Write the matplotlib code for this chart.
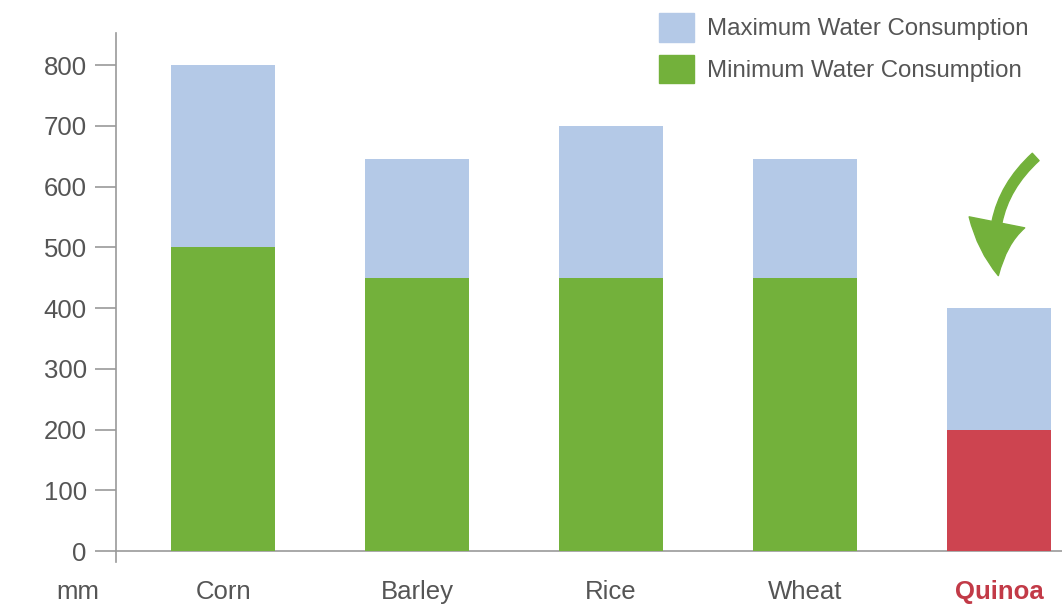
import matplotlib.pyplot as plt
from matplotlib.patches import Patch

plt.rcParams['font.family'] = ['Liberation Sans', 'DejaVu Sans']

crops = ['Corn', 'Barley', 'Rice', 'Wheat', 'Quinoa']
max_water = [800, 645, 700, 645, 400]
min_water = [500, 450, 450, 450, 200]
y_ticks = [0, 100, 200, 300, 400, 500, 600, 700, 800]

blue = '#b4c9e7'
green = '#73b13b'
red = '#cd4450'
grey_text = '#555555'
axis_grey = '#9a9a9a'

fig = plt.figure(figsize=(10.62, 6.07), dpi=100)
ax = fig.add_axes([116 / 1062, (607 - 562) / 607, 1 - 116 / 1062, (562 - 33) / 607])

x_pos = list(range(len(crops)))
min_colors = [green] * (len(crops) - 1) + [red]
ax.bar(x_pos, max_water, width=0.54, color=blue, zorder=2)
ax.bar(x_pos, min_water, width=0.54, color=min_colors, zorder=3)

for s in ['top', 'right']:
    ax.spines[s].set_visible(False)
ax.spines['bottom'].set_position(('data', 0))
ax.spines['bottom'].set_color(axis_grey)
ax.spines['left'].set_color(axis_grey)
ax.spines['bottom'].set_linewidth(1.2)
ax.spines['left'].set_linewidth(1.2)

ax.set_xlim(-0.552, 4.325)
ax.set_ylim(-18, 853)
ax.set_yticks(y_ticks)
ax.tick_params(axis='y', direction='out', length=15, width=1.2, color=axis_grey,
               labelsize=18.5, labelcolor=grey_text, pad=6)
ax.tick_params(axis='x', length=0, labelsize=18.5, labelcolor=grey_text, pad=21)
ax.set_xticks(x_pos)
ax.set_xticklabels(crops)
q = ax.xaxis.get_major_ticks()[-1].label1
q.set_color('#c23a47')
q.set_fontweight('bold')

fig.text(78 / 1062, 1 - 592 / 607, 'mm', fontsize=18.5, color=grey_text, ha='center', va='center')

# arrow pointing at quinoa
ax.annotate('', xy=(4.0, 449), xytext=(4.2, 652),
            arrowprops=dict(arrowstyle='simple,head_length=1.6,head_width=1.7,tail_width=0.3',
                            connectionstyle='arc3,rad=0.3', color=green, mutation_scale=24))

handles = [Patch(color=blue, label='Maximum Water Consumption'),
           Patch(color=green, label='Minimum Water Consumption')]
fig.legend(handles=handles, loc='upper left', bbox_to_anchor=(659 / 1062, 1 - 13 / 607),
           frameon=False, fontsize=17.3, handlelength=1.45, handleheight=1.45,
           handletextpad=0.55, labelspacing=0.55, borderpad=0, borderaxespad=0,
           labelcolor=grey_text)

fig.savefig('out.png', dpi=100)
